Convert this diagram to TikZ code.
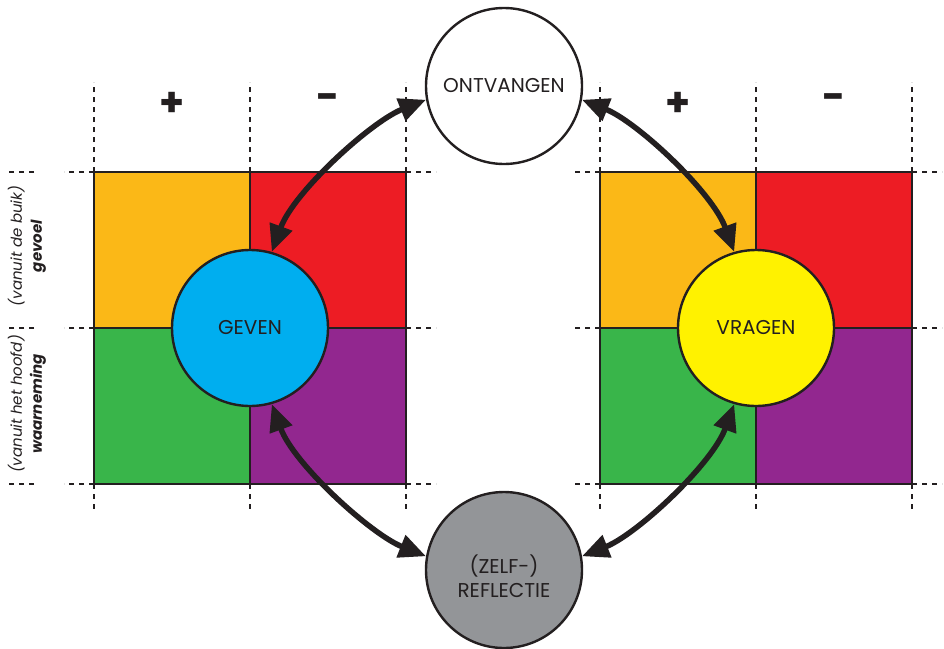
\documentclass[tikz,border=0pt]{standalone}
\usepackage{fontspec}
\setmainfont{Poppins}
\usetikzlibrary{arrows.meta}

\definecolor{ink}{HTML}{231F20}
\definecolor{qorange}{HTML}{FBB817}
\definecolor{qred}{HTML}{ED1C24}
\definecolor{qgreen}{HTML}{39B54A}
\definecolor{qpurple}{HTML}{92278F}
\definecolor{qblue}{HTML}{00AEEF}
\definecolor{qyellow}{HTML}{FFF200}
\definecolor{qgray}{HTML}{939598}

\begin{document}
\begin{tikzpicture}[x=1pt, y=-1pt,
  guide/.style={draw=ink, line width=2.4pt, dash pattern=on 5pt off 5pt},
  gridline/.style={draw=ink, line width=2.6pt},
  disc/.style={circle, draw=ink, line width=2.4pt, minimum size=156pt,
               inner sep=0pt, text=ink, align=center,
               font=\fontsize{20}{24}\selectfont},
  disctext/.style={text=ink, align=center, inner sep=0pt,
               font=\fontsize{20}{24}\selectfont},
  sign/.style={text=ink, font=\fontsize{40}{40}\selectfont\bfseries},
  rowlabel/.style={rotate=90, align=center, text=ink,
                   font=\fontsize{15}{20}\selectfont},
  link/.style={draw=ink, line width=5.5pt,
               {Triangle[length=27pt,width=23pt]}-{Triangle[length=27pt,width=23pt]}}
]
\useasboundingbox (0,0) rectangle (944,648);

% two colour grids with their dashed guide lines
\foreach \gx in {94,600} {
  \fill[qorange] (\gx,172) rectangle ++(156,156);
  \fill[qred]    (\gx+156,172) rectangle ++(156,156);
  \fill[qgreen]  (\gx,328) rectangle ++(156,156);
  \fill[qpurple] (\gx+156,328) rectangle ++(156,156);
  \draw[gridline] (\gx,172) rectangle ++(312,312);
  \draw[gridline] (\gx+156,172) -- ++(0,312);
  \draw[gridline] (\gx,328) -- ++(312,0);
  \foreach \dx in {0,156,312} {
    \draw[guide] (\gx+\dx,172) -- (\gx+\dx,82);
    \draw[guide] (\gx+\dx,484) -- (\gx+\dx,512);
  }
}
\foreach \gy in {172,328,484} {
  \draw[guide] (94,\gy) -- (64,\gy);
  \draw[guide] (34,\gy) -- (8,\gy);
  \draw[guide] (406,\gy) -- (436,\gy);
  \draw[guide] (600,\gy) -- (572,\gy);
  \draw[guide] (912,\gy) -- (942,\gy);
}

% column signs
\node[sign] (lplus)  at (172,104) {+};
\node[sign] (lminus) at (328,102) {-};
\node[sign] (rplus)  at (678,104) {+};
\node[sign] (rminus) at (834,102) {-};

% row labels
\node[rowlabel] (rowtop) at (27,246) {\itshape (vanuit de buik)\\\bfseries\itshape gevoel};
\node[rowlabel] (rowbot) at (27,404) {\itshape (vanuit het hoofd)\\\bfseries\itshape waarneming};

% the four circles
\node[disc, fill=white]   (ont) at (504,86)  {ONTVANGEN};
\node[disc, fill=qblue]   (gev) at (250,328) {GEVEN};
\node[disc, fill=qyellow] (vra) at (756,328) {VRAGEN};
\node[disc, fill=qgray]   (ref) at (504,570) {};
\node[disctext] (reftext) at (504,576) {(ZELF-)\\REFLECTIE};

% curved two-way arrows
\draw[link] (gev.74)  .. controls +(22,-60) and +(-55,22)  .. (ont.190);
\draw[link] (vra.106) .. controls +(-22,-60) and +(55,22)  .. (ont.-10);
\draw[link] (gev.-74) .. controls +(22,60) and +(-55,-22)  .. (ref.170);
\draw[link] (vra.254) .. controls +(-22,60) and +(55,-22)  .. (ref.10);
\end{tikzpicture}
\end{document}
